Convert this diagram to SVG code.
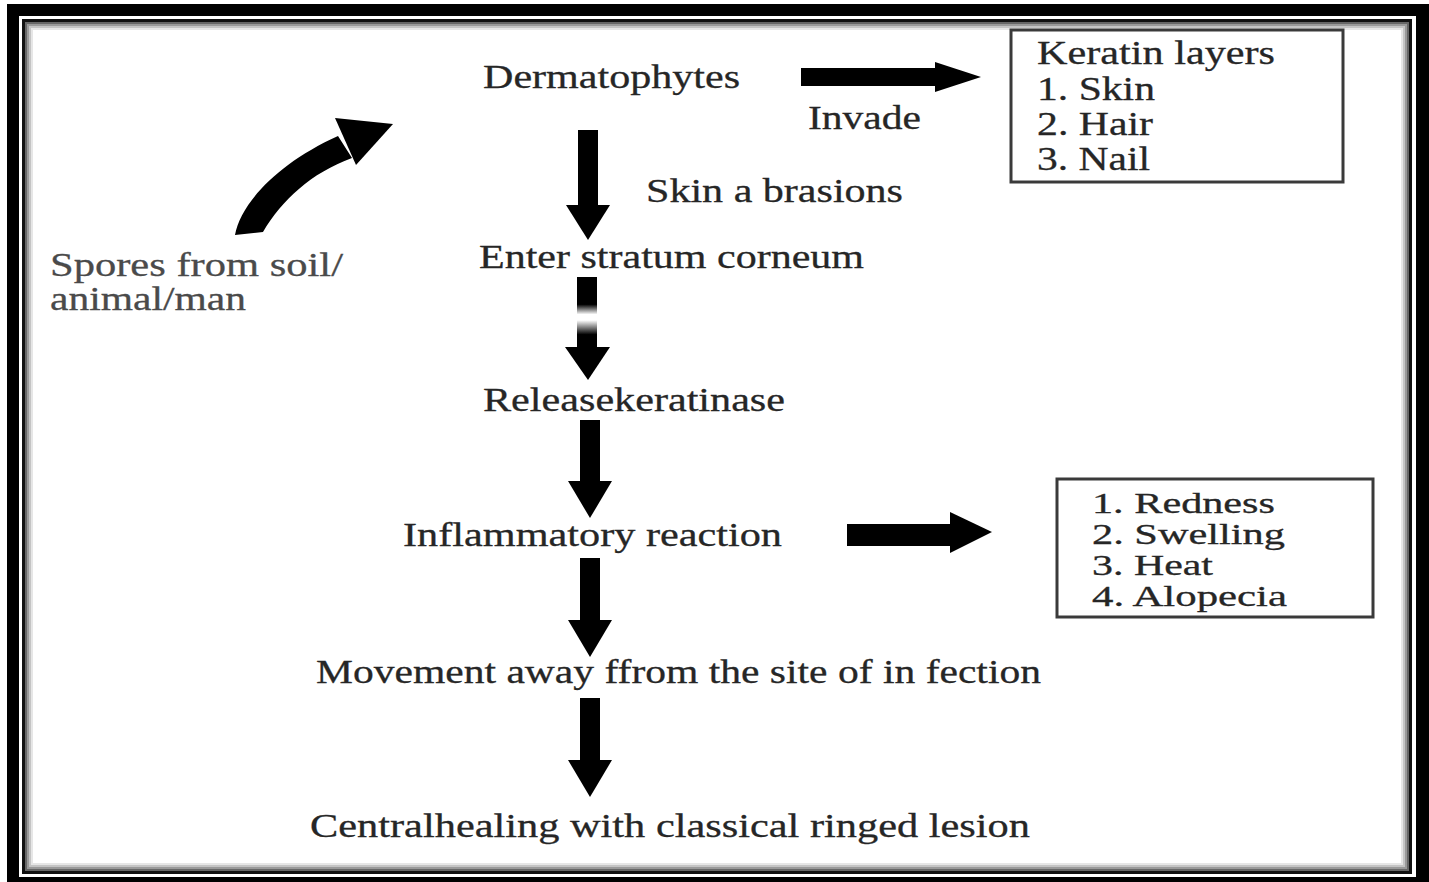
<svg xmlns="http://www.w3.org/2000/svg" width="1429" height="882" viewBox="0 0 1429 882">
  <defs>
    <style>
      .t { font-family: "Liberation Serif", "Times New Roman", serif; font-size: 34px; fill: #262626; stroke: #262626; stroke-width: 0.3; }
      .ts { font-size: 29px; }
      .light { fill: #4a4a4a; stroke: #4a4a4a; }
      .box { fill: #ffffff; stroke: #3a3a3a; stroke-width: 3; }
      .arr { fill: #000000; }
    </style>
    <linearGradient id="fadeShaft" x1="0" y1="0" x2="0" y2="1">
      <stop offset="0" stop-color="#000"/>
      <stop offset="0.38" stop-color="#000"/>
      <stop offset="0.52" stop-color="#fff"/>
      <stop offset="0.6" stop-color="#fff"/>
      <stop offset="0.8" stop-color="#000"/>
      <stop offset="1" stop-color="#000"/>
    </linearGradient>
  </defs>

  <!-- background and frame -->
  <rect x="0" y="0" width="1429" height="882" fill="#ffffff"/>
  <g id="frame">
    <rect x="7" y="4" width="1422" height="878" fill="#000"/>
    <rect x="19" y="16" width="1397" height="861" fill="#fff"/>
    <rect x="23.5" y="20.5" width="1387" height="852" fill="#fff" stroke="#111" stroke-width="3"/>
    <rect x="26" y="23" width="1382" height="847" fill="none" stroke="#666" stroke-width="2"/>
    <rect x="28" y="25" width="1378" height="843" fill="none" stroke="#999" stroke-width="2"/>
    <rect x="30" y="27" width="1374" height="839" fill="none" stroke="#c4c4c4" stroke-width="2"/>
    <rect x="32" y="29" width="1370" height="835" fill="none" stroke="#e6e6e6" stroke-width="2"/>
  </g>

  <!-- connectors -->
  <g id="connectors">
    <!-- curved arrow from spores to dermatophytes -->
    <path class="arr" d="M235,235 C241,203 278,163 338,136 L352,158 C311,173 282,200 263,232 Z"/>
    <polygon class="arr" points="335,118 393,124 356,165"/>
    <!-- Dermatophytes -> Keratin layers -->
    <rect class="arr" x="801" y="68" width="136" height="18"/>
    <polygon class="arr" points="935,62 981,77 935,92"/>
    <!-- Dermatophytes -> Enter stratum corneum -->
    <rect class="arr" x="578" y="130" width="20" height="76"/>
    <polygon class="arr" points="566,205 610,205 588,240"/>
    <!-- Enter stratum corneum -> Releasekeratinase (faded) -->
    <rect x="577" y="277" width="20" height="72" fill="url(#fadeShaft)"/>
    <polygon class="arr" points="565,347 610,347 588,380"/>
    <!-- Releasekeratinase -> Inflammatory reaction -->
    <rect class="arr" x="580" y="420" width="20" height="62"/>
    <polygon class="arr" points="568,481 612,481 590,518"/>
    <!-- Inflammatory reaction -> symptoms -->
    <rect class="arr" x="847" y="524" width="105" height="22"/>
    <polygon class="arr" points="950,512 992,532 950,553"/>
    <!-- Inflammatory reaction -> Movement -->
    <rect class="arr" x="580" y="558" width="20" height="63"/>
    <polygon class="arr" points="568,620 612,620 590,657"/>
    <!-- Movement -> Central healing -->
    <rect class="arr" x="580" y="698" width="20" height="63"/>
    <polygon class="arr" points="568,760 612,760 590,797"/>
  </g>

  <!-- nodes -->
  <g id="node-dermatophytes">
    <text class="t" x="483" y="88" textLength="257" lengthAdjust="spacingAndGlyphs">Dermatophytes</text>
  </g>
  <g id="label-invade">
    <text class="t" x="808" y="129" textLength="113" lengthAdjust="spacingAndGlyphs">Invade</text>
  </g>
  <g id="node-keratin">
    <rect class="box" x="1011" y="30" width="332" height="152"/>
    <text class="t" x="1037" y="64" textLength="238" lengthAdjust="spacingAndGlyphs">Keratin layers</text>
    <text class="t" x="1037" y="100" textLength="118" lengthAdjust="spacingAndGlyphs">1. Skin</text>
    <text class="t" x="1037" y="135" textLength="116" lengthAdjust="spacingAndGlyphs">2. Hair</text>
    <text class="t" x="1037" y="170" textLength="113" lengthAdjust="spacingAndGlyphs">3. Nail</text>
  </g>
  <g id="label-abrasions">
    <text class="t" x="646" y="202" textLength="257" lengthAdjust="spacingAndGlyphs">Skin a brasions</text>
  </g>
  <g id="node-spores">
    <text class="t light" x="50" y="276" textLength="293" lengthAdjust="spacingAndGlyphs">Spores from soil/</text>
    <text class="t light" x="50" y="310" textLength="196" lengthAdjust="spacingAndGlyphs">animal/man</text>
  </g>
  <g id="node-stratum">
    <text class="t" x="479" y="268" textLength="385" lengthAdjust="spacingAndGlyphs">Enter stratum corneum</text>
  </g>
  <g id="node-keratinase">
    <text class="t" x="483" y="411" textLength="302" lengthAdjust="spacingAndGlyphs">Releasekeratinase</text>
  </g>
  <g id="node-inflammatory">
    <text class="t" x="403" y="546" textLength="379" lengthAdjust="spacingAndGlyphs">Inflammatory reaction</text>
  </g>
  <g id="node-symptoms">
    <rect class="box" x="1057" y="479" width="316" height="138"/>
    <text class="t ts" x="1092" y="513" textLength="183" lengthAdjust="spacingAndGlyphs">1. Redness</text>
    <text class="t ts" x="1092" y="544" textLength="193" lengthAdjust="spacingAndGlyphs">2. Swelling</text>
    <text class="t ts" x="1092" y="575" textLength="121" lengthAdjust="spacingAndGlyphs">3. Heat</text>
    <text class="t ts" x="1092" y="606" textLength="195" lengthAdjust="spacingAndGlyphs">4. Alopecia</text>
  </g>
  <g id="node-movement">
    <text class="t" x="316" y="683" textLength="725" lengthAdjust="spacingAndGlyphs">Movement away ffrom the site of in fection</text>
  </g>
  <g id="node-healing">
    <text class="t" x="310" y="837" textLength="720" lengthAdjust="spacingAndGlyphs">Centralhealing with classical ringed lesion</text>
  </g>
</svg>
